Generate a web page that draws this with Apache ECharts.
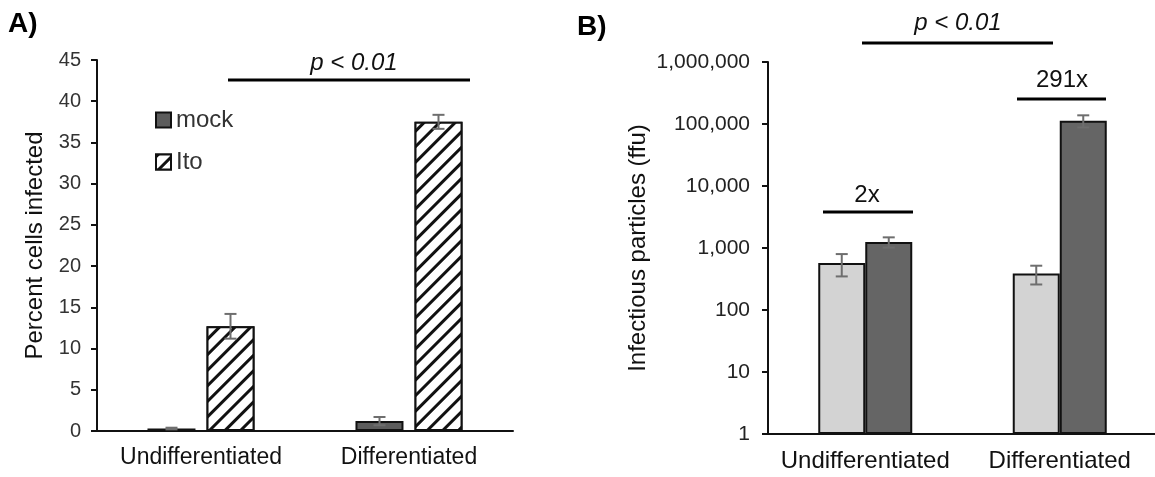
<!DOCTYPE html>
<html>
<head>
<meta charset="utf-8">
<script src="https://cdn.jsdelivr.net/npm/echarts@6/dist/echarts.min.js"></script>
<style>
  html, body { margin: 0; padding: 0; background: #fff; }
  #main { width: 1155px; height: 477px; }
</style>
</head>
<body>
<div id="main"></div>
<script>
// categories shared by both panels
var categories = ['Undifferentiated', 'Differentiated'];

// panel A: percent cells infected
var mockPct = [0.3, 1.2];
var mockPctErr = [0.1, 0.5];
var itoPct = [12.7, 37.5];
var itoPctErr = [1.5, 0.85];

// panel B: infectious particles (ffu), log scale
var lightFfu = [573, 388];
var lightFfuErr = [225, 130];
var darkFfu = [1250, 113000];
var darkFfuErr = [235, 25000];

var FONT = 'Liberation Sans, Arial, sans-serif';

function errData(vals, errs) {
  return vals.map(function (v, i) { return [i, v - errs[i], v + errs[i]]; });
}

// draws an I-shaped error bar, shifted sideways to sit on its bar in the group
function errRender(offset, capW) {
  return function (params, api) {
    var lo = api.coord([api.value(0), api.value(1)]);
    var hi = api.coord([api.value(0), api.value(2)]);
    var x = lo[0] + offset;
    var st = { stroke: '#6e6e6e', lineWidth: 2 };
    return {
      type: 'group',
      children: [
        { type: 'line', shape: { x1: x, y1: lo[1], x2: x, y2: hi[1] }, style: st },
        { type: 'line', shape: { x1: x - capW / 2, y1: hi[1], x2: x + capW / 2, y2: hi[1] }, style: st },
        { type: 'line', shape: { x1: x - capW / 2, y1: lo[1], x2: x + capW / 2, y2: lo[1] }, style: st }
      ]
    };
  };
}

var hatch = {
  symbol: 'rect',
  symbolSize: 1,
  dashArrayX: [1, 0],
  dashArrayY: [3, 8],
  rotation: -Math.PI / 4,
  color: '#111',
  backgroundColor: '#fff'
};

var chart = echarts.init(document.getElementById('main'));

var option = {
  animation: false,
  backgroundColor: '#fff',
  textStyle: { fontFamily: FONT },
  legend: {
    data: ['mock', 'Ito'],
    orient: 'vertical',
    left: 155,
    top: 108,
    padding: 0,
    itemWidth: 15,
    itemHeight: 15,
    itemGap: 18,
    icon: 'rect',
    textStyle: { fontSize: 24, color: '#333', fontFamily: FONT }
  },
  grid: [
    { left: 97, top: 60, width: 416, height: 371, outerBoundsMode: 'none' },
    { left: 768, top: 62, width: 389, height: 372, outerBoundsMode: 'none' }
  ],
  xAxis: [
    {
      gridIndex: 0, type: 'category', data: categories,
      axisLine: { lineStyle: { color: '#111', width: 2 } },
      axisTick: { length: 6, lineStyle: { color: '#111', width: 2 } },
      axisLabel: { interval: 0, fontSize: 23, color: '#111', margin: 15, fontFamily: FONT }
    },
    {
      gridIndex: 1, type: 'category', data: categories,
      axisLine: { lineStyle: { color: '#111', width: 2 } },
      axisTick: { length: 6, lineStyle: { color: '#111', width: 2 } },
      axisLabel: { interval: 0, fontSize: 24, color: '#111', margin: 15, fontFamily: FONT }
    }
  ],
  yAxis: [
    {
      gridIndex: 0, type: 'value', min: 0, max: 45, interval: 5,
      name: 'Percent cells infected', nameLocation: 'middle', nameGap: 50,
      nameTextStyle: { fontSize: 24, color: '#111', fontFamily: FONT },
      axisLine: { show: true, lineStyle: { color: '#111', width: 2 } },
      axisTick: { show: true, length: 6, lineStyle: { color: '#111', width: 2 } },
      axisLabel: { fontSize: 20, color: '#333', margin: 16, fontFamily: FONT },
      splitLine: { show: false }
    },
    {
      gridIndex: 1, type: 'log', logBase: 10, min: 1, max: 1000000, splitNumber: 6,
      name: 'Infectious particles (ffu)', nameLocation: 'middle', nameGap: 118,
      nameTextStyle: { fontSize: 24, color: '#111', fontFamily: FONT },
      axisLine: { show: true, lineStyle: { color: '#111', width: 2 } },
      axisTick: { show: true, length: 6, lineStyle: { color: '#111', width: 2 } },
      axisLabel: {
        fontSize: 21, color: '#222', margin: 18, fontFamily: FONT,
        formatter: function (v) { return Math.round(v).toLocaleString('en-US'); }
      },
      minorTick: { show: false },
      splitLine: { show: false }
    }
  ],
  series: [
    {
      name: 'mock', type: 'bar', xAxisIndex: 0, yAxisIndex: 0,
      data: mockPct, barWidth: 48, barGap: '23%',
      itemStyle: { color: '#5c5c5c', borderColor: '#111', borderWidth: 2 }
    },
    {
      name: 'Ito', type: 'bar', xAxisIndex: 0, yAxisIndex: 0,
      data: itoPct, barWidth: 48, barGap: '23%',
      itemStyle: { color: '#fff', borderColor: '#111', borderWidth: 2, decal: hatch }
    },
    {
      name: 'B light', type: 'bar', xAxisIndex: 1, yAxisIndex: 1,
      data: lightFfu, barWidth: 47, barGap: 0,
      itemStyle: { color: '#d3d3d3', borderColor: '#111', borderWidth: 2 }
    },
    {
      name: 'B dark', type: 'bar', xAxisIndex: 1, yAxisIndex: 1,
      data: darkFfu, barWidth: 47, barGap: 0,
      itemStyle: { color: '#656565', borderColor: '#111', borderWidth: 2 }
    },
    { type: 'custom', xAxisIndex: 0, yAxisIndex: 0, z: 5, renderItem: errRender(-29.5, 12), data: errData(mockPct, mockPctErr) },
    { type: 'custom', xAxisIndex: 0, yAxisIndex: 0, z: 5, renderItem: errRender(29.5, 12), data: errData(itoPct, itoPctErr) },
    { type: 'custom', xAxisIndex: 1, yAxisIndex: 1, z: 5, renderItem: errRender(-23.5, 12), data: errData(lightFfu, lightFfuErr) },
    { type: 'custom', xAxisIndex: 1, yAxisIndex: 1, z: 5, renderItem: errRender(23.5, 12), data: errData(darkFfu, darkFfuErr) }
  ],
  graphic: [
    { type: 'text', left: 8, top: 10, style: { text: 'A)', font: 'bold 28px ' + FONT, fill: '#000' } },
    { type: 'text', left: 577, top: 13, style: { text: 'B)', font: 'bold 28px ' + FONT, fill: '#000' } },
    // significance bars
    { type: 'line', shape: { x1: 228, y1: 80, x2: 470, y2: 80 }, style: { stroke: '#000', lineWidth: 3 } },
    { type: 'text', x: 354, y: 63, style: { text: 'p < 0.01', font: 'italic 24px ' + FONT, fill: '#111', align: 'center', verticalAlign: 'middle' } },
    { type: 'line', shape: { x1: 862, y1: 43, x2: 1053, y2: 43 }, style: { stroke: '#000', lineWidth: 3 } },
    { type: 'text', x: 958, y: 23, style: { text: 'p < 0.01', font: 'italic 24px ' + FONT, fill: '#111', align: 'center', verticalAlign: 'middle' } },
    { type: 'line', shape: { x1: 1017, y1: 99, x2: 1106, y2: 99 }, style: { stroke: '#000', lineWidth: 3 } },
    { type: 'text', x: 1062, y: 80, style: { text: '291x', font: '24px ' + FONT, fill: '#111', align: 'center', verticalAlign: 'middle' } },
    { type: 'line', shape: { x1: 823, y1: 212, x2: 913, y2: 212 }, style: { stroke: '#000', lineWidth: 3 } },
    { type: 'text', x: 867, y: 195, style: { text: '2x', font: '24px ' + FONT, fill: '#111', align: 'center', verticalAlign: 'middle' } }
  ]
};

chart.setOption(option);
</script>
</body>
</html>
